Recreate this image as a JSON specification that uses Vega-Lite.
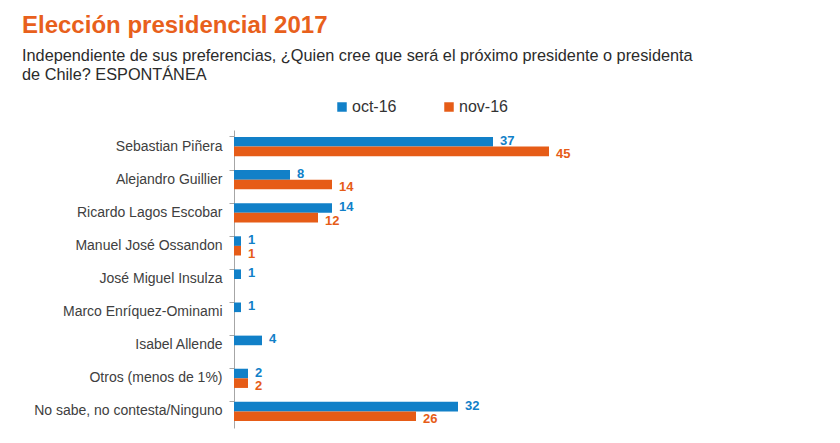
{
  "$schema": "https://vega.github.io/schema/vega-lite/v6.json",
  "autosize": "none",
  "width": 350,
  "height": 298,
  "padding": {"left": 234, "top": 130, "right": 256, "bottom": 15},
  "background": "white",
  "config": {
    "font": "Liberation Sans",
    "view": {"stroke": null}
  },
  "title": {
    "text": "Elección presidencial 2017",
    "subtitle": ["Independiente de sus preferencias, ¿Quien cree que será el próximo presidente o presidenta", "de Chile? ESPONTÁNEA"],
    "anchor": "start",
    "frame": "group",
    "dx": -212,
    "offset": 16,
    "font": "Liberation Sans",
    "fontSize": 24,
    "fontWeight": "bold",
    "color": "#E8601C",
    "subtitleFont": "Liberation Sans",
    "subtitleFontSize": 16.3,
    "subtitleColor": "#2b2b2b",
    "subtitlePadding": 10,
    "subtitleLineHeight": 19
  },
  "data": {
    "values": [
      {"cand": "Sebastian Piñera", "serie": "oct-16", "val": 37},
      {"cand": "Sebastian Piñera", "serie": "nov-16", "val": 45},
      {"cand": "Alejandro Guillier", "serie": "oct-16", "val": 8},
      {"cand": "Alejandro Guillier", "serie": "nov-16", "val": 14},
      {"cand": "Ricardo Lagos Escobar", "serie": "oct-16", "val": 14},
      {"cand": "Ricardo Lagos Escobar", "serie": "nov-16", "val": 12},
      {"cand": "Manuel José Ossandon", "serie": "oct-16", "val": 1},
      {"cand": "Manuel José Ossandon", "serie": "nov-16", "val": 1},
      {"cand": "José Miguel Insulza", "serie": "oct-16", "val": 1},
      {"cand": "Marco Enríquez-Ominami", "serie": "oct-16", "val": 1},
      {"cand": "Isabel Allende", "serie": "oct-16", "val": 4},
      {"cand": "Otros (menos de 1%)", "serie": "oct-16", "val": 2},
      {"cand": "Otros (menos de 1%)", "serie": "nov-16", "val": 2},
      {"cand": "No sabe, no contesta/Ninguno", "serie": "oct-16", "val": 32},
      {"cand": "No sabe, no contesta/Ninguno", "serie": "nov-16", "val": 26}
    ]
  },
  "encoding": {
    "y": {
      "field": "cand",
      "type": "nominal",
      "sort": ["Sebastian Piñera", "Alejandro Guillier", "Ricardo Lagos Escobar", "Manuel José Ossandon", "José Miguel Insulza", "Marco Enríquez-Ominami", "Isabel Allende", "Otros (menos de 1%)", "No sabe, no contesta/Ninguno"],
      "scale": {"paddingInner": 0.42, "paddingOuter": 0.21},
      "axis": {
        "title": null,
        "bandPosition": 0,
        "domainColor": "#a6a6a6",
        "tickColor": "#a6a6a6",
        "tickSize": 5,
        "labelPadding": 7,
        "labelLimit": 260,
        "labelFontSize": 14,
        "labelColor": "#404040",
        "labelFont": "Liberation Sans"
      }
    },
    "yOffset": {"field": "serie", "type": "nominal", "sort": ["oct-16", "nov-16"]},
    "x": {
      "field": "val",
      "type": "quantitative",
      "scale": {"domain": [0, 50]},
      "axis": null
    },
    "color": {
      "field": "serie",
      "type": "nominal",
      "sort": ["oct-16", "nov-16"],
      "scale": {"domain": ["oct-16", "nov-16"], "range": ["#1180C8", "#E65C17"]},
      "legend": {
        "title": null,
        "orient": "none",
        "legendX": 100,
        "legendY": -31,
        "direction": "horizontal",
        "symbolType": "square",
        "symbolSize": 90,
        "symbolStrokeWidth": 0,
        "labelFontSize": 16,
        "labelColor": "#333333",
        "labelFont": "Liberation Sans",
        "columnPadding": 44,
        "labelOffset": 2
      }
    }
  },
  "layer": [
    {"mark": {"type": "bar"}},
    {
      "transform": [{"filter": "datum.serie === 'oct-16'"}],
      "mark": {"type": "text", "align": "left", "baseline": "middle", "dx": 7, "dy": -1, "fontWeight": "bold", "fontSize": 13, "font": "Liberation Sans"},
      "encoding": {"text": {"field": "val", "type": "quantitative"}}
    },
    {
      "transform": [{"filter": "datum.serie === 'nov-16'"}],
      "mark": {"type": "text", "align": "left", "baseline": "middle", "dx": 7, "dy": 3, "fontWeight": "bold", "fontSize": 13, "font": "Liberation Sans"},
      "encoding": {"text": {"field": "val", "type": "quantitative"}}
    }
  ]
}
